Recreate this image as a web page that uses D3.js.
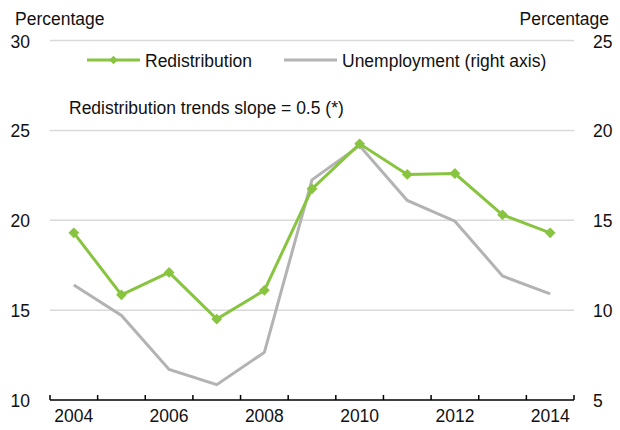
<!DOCTYPE html>
<html><head><meta charset="utf-8">
<script src="https://cdn.jsdelivr.net/npm/d3@7"></script>
<style>body{margin:0;background:#fff}svg{display:block}text{font-family:"Liberation Sans",Arial,sans-serif;fill:#111}</style>
</head><body><svg id="c" width="620" height="430"></svg>
<script>
const years = [2004,2005,2006,2007,2008,2009,2010,2011,2012,2013,2014];
const redistribution = [19.3,15.85,17.1,14.5,16.1,21.75,24.25,22.55,22.6,20.3,19.3];
const unemployment = [11.4,9.7,6.7,5.85,7.65,17.25,19.15,16.1,14.95,11.9,10.9];
const leftTicks = [10,15,20,25,30];
const rightTicks = [5,10,15,20,25];
const yearLabels = [2004,2006,2008,2010,2012,2014];

const svg = d3.select("#c");
const fs = "17.5px";
const x = d3.scaleBand().domain(years).range([50,574]).padding(0);
const yL = d3.scaleLinear().domain([10,30]).range([400,40.5]);
const yR = d3.scaleLinear().domain([5,25]).range([400,40.5]);
const green = "#88c440", gray = "#b3b3b3";

// gridlines
svg.append("g").selectAll("line").data(leftTicks.filter(d=>d>10)).join("line")
  .attr("x1",50).attr("x2",574).attr("y1",d=>yL(d)).attr("y2",d=>yL(d))
  .attr("stroke","#d9d9d9").attr("stroke-width",1.5);

// left tick labels
svg.append("g").selectAll("text").data(leftTicks).join("text")
  .attr("x",30).attr("y",d=>yL(d)+7).attr("text-anchor","end").style("font-size",fs).text(d=>d);
// right tick labels
svg.append("g").selectAll("text").data(rightTicks).join("text")
  .attr("x",593).attr("y",d=>yR(d)+7).attr("text-anchor","start").style("font-size",fs).text(d=>d);

// axis titles
svg.append("text").attr("x",15).attr("y",25).style("font-size",fs).text("Percentage");
svg.append("text").attr("x",609).attr("y",25).attr("text-anchor","end").style("font-size",fs).text("Percentage");

// x axis
const xa = svg.append("g");
xa.append("line").attr("x1",50).attr("x2",574).attr("y1",400).attr("y2",400).attr("stroke","#000").attr("stroke-width",1.5);
const bounds = years.map(d=>x(d)).concat([x(years[years.length-1])+x.bandwidth()]);
xa.selectAll("line.t").data(bounds).join("line").attr("class","t")
  .attr("x1",d=>d).attr("x2",d=>d).attr("y1",400).attr("y2",395).attr("stroke","#000").attr("stroke-width",1.5);
xa.selectAll("text").data(yearLabels).join("text")
  .attr("x",d=>x(d)+x.bandwidth()/2).attr("y",422).attr("text-anchor","middle").style("font-size",fs).text(d=>d);

const cx = d=>x(d)+x.bandwidth()/2;
// unemployment line
svg.append("path").datum(years.map((d,i)=>[cx(d),yR(unemployment[i])]))
  .attr("d",d3.line()).attr("fill","none").attr("stroke",gray).attr("stroke-width",3).attr("stroke-linejoin","miter");
// redistribution line
svg.append("path").datum(years.map((d,i)=>[cx(d),yL(redistribution[i])]))
  .attr("d",d3.line()).attr("fill","none").attr("stroke",green).attr("stroke-width",3);
const diamond = r=>`M0,${-r}L${r},0L0,${r}L${-r},0Z`;
svg.append("g").selectAll("path").data(years).join("path")
  .attr("d",diamond(5.4)).attr("fill",green)
  .attr("transform",(d,i)=>`translate(${cx(d)},${yL(redistribution[i])})`);

// legend
svg.append("line").attr("x1",87).attr("x2",140).attr("y1",60).attr("y2",60).attr("stroke",green).attr("stroke-width",3);
svg.append("path").attr("d",diamond(4.2)).attr("fill",green).attr("transform","translate(113.5,60)");
svg.append("text").attr("x",145).attr("y",66.5).style("font-size",fs).text("Redistribution");
svg.append("line").attr("x1",284).attr("x2",337).attr("y1",60).attr("y2",60).attr("stroke",gray).attr("stroke-width",3);
svg.append("text").attr("x",342).attr("y",66.5).style("font-size",fs).text("Unemployment (right axis)");

// annotation
svg.append("text").attr("x",69).attr("y",114).style("font-size",fs).text("Redistribution trends slope = 0.5 (*)");
</script></body></html>
